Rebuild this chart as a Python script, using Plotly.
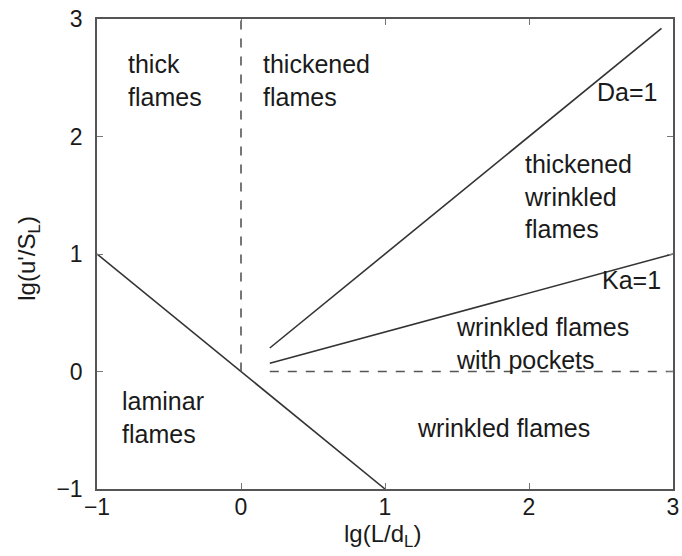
import plotly.graph_objects as go

# Regime boundaries (log10 coordinates)
laminar_x = [-1, 1]
laminar_y = [1, -1]
thick_x = [0, 0]
thick_y = [0, 3]
da_x = [0.2, 2.92]
da_y = [0.2, 2.92]
ka_x = [0.2, 3.0]
ka_y = [0.07, 1.0]
pocket_x = [0.2, 3.0]
pocket_y = [0, 0]

# Region labels
label_text = ["thick<br>flames", "thickened<br>flames", "Da=1",
              "thickened<br>wrinkled<br>flames", "Ka=1",
              "wrinkled flames<br>with pockets", "wrinkled flames",
              "laminar<br>flames"]
label_x = [-0.80, 0.14, 2.90, 1.95, 2.93, 1.48, 1.21, -0.84]
label_y = [2.48, 2.48, 2.38, 1.49, 0.775, 0.235, -0.48, -0.39]
label_anchor = ["left", "left", "right", "left", "right", "left", "left", "left"]

ticks = [-1, 0, 1, 2, 3]

FONT = "Liberation Sans"
LC = "#333333"
TC = "#1a1a1a"

fig = go.Figure()
for xs, ys, dash in [(laminar_x, laminar_y, "solid"), (thick_x, thick_y, "dash"),
                     (da_x, da_y, "solid"), (ka_x, ka_y, "solid"),
                     (pocket_x, pocket_y, "dash")]:
    fig.add_trace(go.Scatter(x=xs, y=ys, mode="lines",
                             line=dict(color=LC if dash == "solid" else "#555", width=1.6, dash=dash),
                             showlegend=False, hoverinfo="skip"))

for t, x, y, a in zip(label_text, label_x, label_y, label_anchor):
    fig.add_annotation(x=x, y=y, text=t, showarrow=False, xanchor=a, yanchor="middle",
                       align=a, font=dict(family=FONT, size=25, color=TC))

# axis titles
fig.add_annotation(xref="paper", yref="paper", x=0.495, y=-0.098, text="lg(L/d<sub>L</sub>)",
                   showarrow=False, xanchor="center", yanchor="middle",
                   font=dict(family=FONT, size=24, color=TC))
fig.add_annotation(xref="paper", yref="paper", x=-0.118, y=0.49, text="lg(u'/S<sub>L</sub>)",
                   textangle=-90, showarrow=False, xanchor="center", yanchor="middle",
                   font=dict(family=FONT, size=24, color=TC))

axis_common = dict(range=[-1, 3], tickvals=ticks, ticktext=[("−1" if v < 0 else str(v)) for v in ticks],
                   showgrid=False, zeroline=False, showline=True, linecolor="#555", linewidth=1.5,
                   mirror="ticks", ticks="inside", ticklen=6, tickcolor="#777",
                   automargin=False, ticklabeloverflow="allow",
                   tickfont=dict(family=FONT, size=23, color=TC))

fig.update_xaxes(**axis_common, ticklabelstandoff=-3)
fig.update_yaxes(**axis_common, ticklabelstandoff=8)

fig.update_layout(width=682, height=556, margin=dict(l=97, r=9, t=19, b=67),
                  plot_bgcolor="white", paper_bgcolor="white")

fig.write_html("out.html", config={"displayModeBar": False},
               post_script="document.body.style.margin='0';document.body.style.overflow='hidden';")
